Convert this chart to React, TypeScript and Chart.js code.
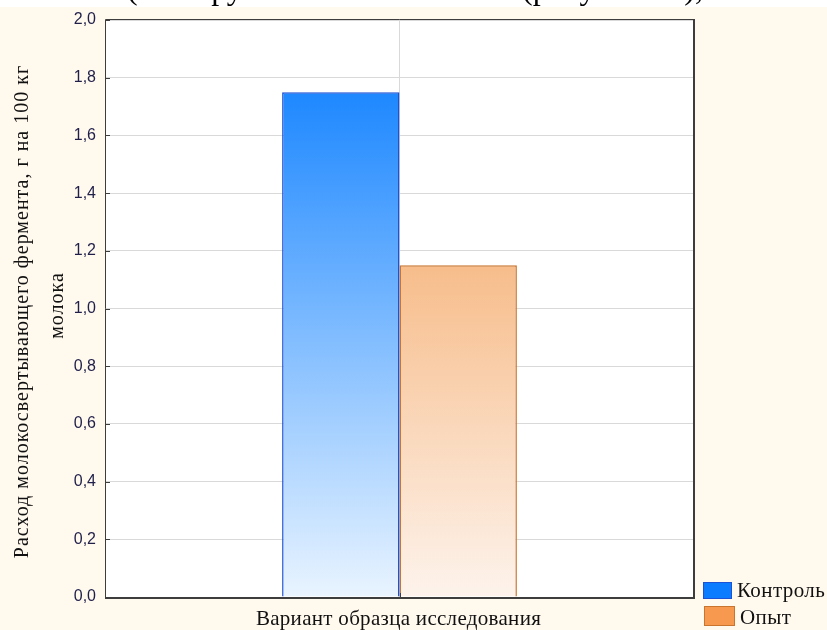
import React, { useEffect, useRef } from "react";
import { Chart, registerables } from "chart.js";

Chart.register(...registerables);

// Data
const categories = ["Вариант образца исследования"];
const seriesNames = ["Контроль", "Опыт"];
const controlValues = [1.75];
const experimentValues = [1.15];
const yTickValues = [0, 0.2, 0.4, 0.6, 0.8, 1.0, 1.2, 1.4, 1.6, 1.8, 2.0];
const yTitleLines = ["Расход молокосвертывающего фермента, г на 100 кг", "молока"];
const xTitle = "Вариант образца исследования";

const W = 827;
const H = 630;
const CREAM = "#FFF9EE";
const FRAME = "#3d3d3d";
const SERIF = "'Liberation Serif', 'Times New Roman', serif";
const SANS = "'Liberation Sans', Arial, sans-serif";

const fmt = (v: number) => v.toFixed(1).replace(".", ",");

function barGradient(ctx: any, top: string, bottom: string) {
  const chart = ctx.chart;
  const area = chart.chartArea;
  if (!area || ctx.raw === undefined) return top;
  const yTop = chart.scales.y.getPixelForValue(ctx.raw);
  const g = chart.ctx.createLinearGradient(0, yTop, 0, area.bottom);
  g.addColorStop(0, top);
  g.addColorStop(1, bottom);
  return g;
}

const decorPlugin = {
  id: "decor",
  beforeDraw(chart: any) {
    const c = chart.ctx;
    c.save();
    c.fillStyle = CREAM;
    c.fillRect(0, 7, W, H - 7);
    const a = chart.chartArea;
    c.fillStyle = "#ffffff";
    c.fillRect(a.left, a.top, a.right - a.left, a.bottom - a.top);
    c.restore();
  },
  afterDatasetsDraw(chart: any) {
    const c = chart.ctx;
    const a = chart.chartArea;
    const y = chart.scales.y;
    const x = chart.scales.x;
    c.save();
    c.strokeStyle = FRAME;
    // inner tick marks
    c.lineWidth = 1;
    yTickValues.forEach((v) => {
      const py = Math.round(y.getPixelForValue(v)) + 0.5;
      c.beginPath();
      c.moveTo(a.left, py);
      c.lineTo(a.left + 4, py);
      c.stroke();
    });
    const cx = Math.round(x.getPixelForValue(0)) + 0.5;
    c.beginPath();
    c.moveTo(cx, a.bottom);
    c.lineTo(cx, a.bottom - 4);
    c.stroke();
    // frame: thin top/left, heavier right/bottom
    c.beginPath();
    c.moveTo(a.left - 0.5, a.bottom);
    c.lineTo(a.left - 0.5, a.top - 0.5);
    c.lineTo(a.right, a.top - 0.5);
    c.stroke();
    c.lineWidth = 2;
    c.beginPath();
    c.moveTo(a.right + 1, a.top - 1);
    c.lineTo(a.right + 1, a.bottom + 1);
    c.lineTo(a.left - 1, a.bottom + 1);
    c.stroke();
    c.restore();
  },
  afterDraw(chart: any) {
    const c = chart.ctx;
    const a = chart.chartArea;
    c.save();
    // y axis title
    c.fillStyle = "#111111";
    c.font = `20px ${SERIF}`;
    c.letterSpacing = "1px";
    c.textAlign = "center";
    c.textBaseline = "alphabetic";
    const midY = (a.top + a.bottom) / 2;
    c.save();
    c.translate(28, midY + 3);
    c.rotate(-Math.PI / 2);
    c.fillText(yTitleLines[0], 0, 0);
    c.restore();
    c.save();
    c.translate(63, midY - 3);
    c.rotate(-Math.PI / 2);
    c.fillText(yTitleLines[1], 0, 0);
    c.restore();
    // x axis title
    c.font = `21px ${SERIF}`;
    c.letterSpacing = "0.3px";
    c.fillText(xTitle, (a.left + a.right) / 2 - 1, 625);
    // legend
    const ds = chart.data.datasets;
    const rows = [
      { bx: 703, by: 582, bw: 29, bh: 17, ty: 597 },
      { bx: 704, by: 606, bw: 31, bh: 20, ty: 624 },
    ];
    c.textAlign = "left";
    c.font = `21px ${SERIF}`;
    c.letterSpacing = "0.4px";
    ds.forEach((d: any, i: number) => {
      const r = rows[i];
      c.fillStyle = d.legendFill;
      c.fillRect(r.bx, r.by, r.bw, r.bh);
      c.strokeStyle = d.borderColor;
      c.lineWidth = 1;
      c.strokeRect(r.bx + 0.5, r.by + 0.5, r.bw - 1, r.bh - 1);
      c.fillStyle = "#111111";
      c.fillText(d.label, r.bx + r.bw + 5, r.ty);
    });
    c.restore();
  },
};

export default function App() {
  const ref = useRef<HTMLCanvasElement | null>(null);

  useEffect(() => {
    if (!ref.current) return;
    const chart = new Chart(ref.current, {
      type: "bar",
      data: {
        labels: categories,
        datasets: [
          {
            label: seriesNames[0],
            data: controlValues,
            backgroundColor: (ctx: any) => barGradient(ctx, "#1E88FF", "#E9F4FF"),
            borderColor: "#1B52D6",
            borderWidth: { top: 1.5, left: 1.5, right: 1.5, bottom: 0 },
            legendFill: "#0B7BFF",
          } as any,
          {
            label: seriesNames[1],
            data: experimentValues,
            backgroundColor: (ctx: any) => barGradient(ctx, "#F7BD8B", "#FDF3EC"),
            borderColor: "#C9742F",
            borderWidth: { top: 1.5, left: 1.5, right: 1.5, bottom: 0 },
            legendFill: "#F79A50",
          } as any,
        ],
      },
      options: {
        animation: false,
        responsive: false,
        maintainAspectRatio: false,
        layout: { padding: { left: 0, right: W - 693, top: 20, bottom: H - 597 } },
        datasets: { bar: { categoryPercentage: 0.4, barPercentage: 1.0 } },
        plugins: {
          legend: { display: false },
          tooltip: { enabled: false },
          title: { display: false },
        },
        scales: {
          x: {
            offset: true,
            grid: { offset: false, color: "#d9d9d9", lineWidth: 1, drawTicks: false },
            border: { display: false },
            ticks: { display: false },
            afterFit: (s: any) => {
              s.height = 0;
            },
          },
          y: {
            min: 0,
            max: 2,
            afterBuildTicks: (s: any) => {
              s.ticks = yTickValues.map((v) => ({ value: v }));
            },
            grid: { color: "#d9d9d9", lineWidth: 1, drawTicks: false },
            border: { display: false },
            ticks: {
              padding: 10,
              color: "#1f1f4a",
              font: { family: SANS, size: 16 },
              callback: (v: any) => fmt(Number(v)),
            },
            afterFit: (s: any) => {
              s.width = 106;
            },
          },
        },
      } as any,
      plugins: [decorPlugin],
    });
    return () => chart.destroy();
  }, []);

  const topText = { position: "absolute" as const, top: -28, fontFamily: SERIF, fontSize: 32, lineHeight: "32px", whiteSpace: "pre" as const, color: "#000" };

  return (
    <div style={{ position: "fixed", left: 0, top: 0, width: W, height: H, background: "#ffffff", overflow: "hidden" }}>
      <canvas ref={ref} width={W} height={H} style={{ position: "absolute", left: 0, top: 0, width: W, height: H }} />
      <div style={{ position: "absolute", left: 0, top: 0, width: W, height: 7, overflow: "hidden" }}>
        <span style={{ ...topText, left: 127 }}>(</span>
        <span style={{ ...topText, left: 198 }}>группах</span>
        <span style={{ ...topText, left: 522 }}>(рисунок 13),</span>
      </div>
    </div>
  );
}
